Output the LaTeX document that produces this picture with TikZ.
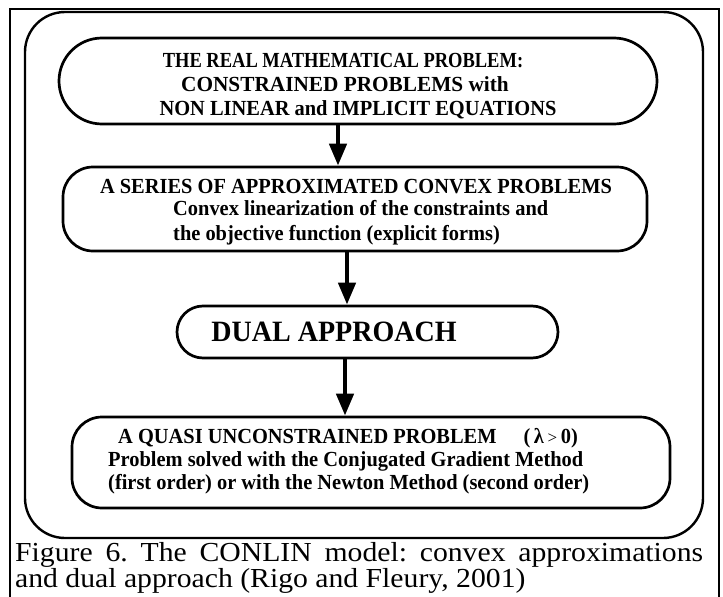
\documentclass[tikz,border=0pt]{standalone}
\usepackage{fontspec}
\setmainfont{Liberation Serif}
\newfontfamily\capfont{Liberation Serif}[FakeStretch=1.08]
\newfontfamily\boxfont{Liberation Serif}[FakeStretch=0.95]
\newfontfamily\narrowfont{Liberation Serif}[FakeStretch=0.86]
\newfontfamily\widefont{Liberation Serif}[FakeStretch=0.99]
\usetikzlibrary{arrows.meta,calc}
\tikzset{
  boxa/.style={draw, line width=2.7pt, inner sep=0pt, fill=none},
  arr/.style={line width=4.5pt, -{Triangle[width=17pt,length=22pt]}},
  btxt/.style={inner sep=0pt, font=\boxfont\bfseries\fontsize{21.5}{24}\selectfont},
  captxt/.style={inner sep=0pt, font=\capfont\frenchspacing\fontsize{27.5}{26}\selectfont},
}
\begin{document}
\begin{tikzpicture}[x=1pt,y=-1pt]
\useasboundingbox (0,0) rectangle (723,597);
% outer frame lines
\draw[line width=2pt] (10,600) -- (10,9) -- (719,9) -- (719,600);
% rounded frame
\node[draw, line width=2.4pt, rounded corners=40pt, minimum width=678pt, minimum height=526pt, inner sep=0pt] (frame) at (364,275) {};
% boxes
\node[boxa, rounded corners=43pt, minimum width=598pt, minimum height=86pt] (b1) at (358,81) {};
\node[boxa, rounded corners=30pt, minimum width=584pt, minimum height=84pt] (b2) at (355,209) {};
\node[boxa, rounded corners=26pt, minimum width=381pt, minimum height=52pt] (b3) at (367.5,332) {};
\node[boxa, rounded corners=30pt, minimum width=598pt, minimum height=91pt] (b4) at (371,462.5) {};
% texts
\node[btxt, anchor=base, font=\narrowfont\bfseries\fontsize{21.5}{24}\selectfont] (t1a) at (343,67) {THE REAL MATHEMATICAL PROBLEM:};
\node[btxt, anchor=base, font=\widefont\bfseries\fontsize{21.5}{24}\selectfont] (t1b) at (345,91) {CONSTRAINED PROBLEMS with};
\node[btxt, anchor=base] (t1c) at (358,115) {NON LINEAR and IMPLICIT EQUATIONS};
\node[btxt, anchor=base] (t2a) at (356,193) {A SERIES OF APPROXIMATED CONVEX PROBLEMS};
\node[btxt, anchor=base west] (t2b) at (173,215) {Convex linearization of the constraints and};
\node[btxt, anchor=base west] (t2c) at (173,240) {the objective function (explicit forms)};
\node[inner sep=0pt, anchor=base, font=\boxfont\bfseries\fontsize{29.5}{30}\selectfont] (t3) at (334,341) {DUAL APPROACH};
\node[btxt, anchor=base west] (t4a) at (118,443) {A QUASI UNCONSTRAINED PROBLEM};
\node[btxt, anchor=base east] (t4r) at (578,443) {(\,λ\,{\normalfont\fontsize{17}{17}\selectfont >}\,0)};
\node[btxt, anchor=base west] (t4b) at (108,466) {Problem solved with the Conjugated Gradient Method};
\node[btxt, anchor=base west] (t4c) at (108,489) {(first order) or with the Newton Method (second order)};
% arrows
\draw[arr] ([xshift=-20pt]b1.south) -- ([xshift=-20pt]b1.south |- b2.north);
\draw[arr] ([xshift=-8pt]b2.south) -- ([xshift=-8pt]b2.south |- b3.north);
\draw[arr] ([xshift=-22.5pt]b3.south) -- ([xshift=-22.5pt]b3.south |- b4.north);
% caption
\node[captxt, anchor=base west] (c1) at (15,561) {\makebox[688pt][s]{Figure 6. The CONLIN model: convex approximations}};
\node[captxt, anchor=base west] (c2) at (15,587) {and dual approach (Rigo and Fleury, 2001)};
\end{tikzpicture}
\end{document}
